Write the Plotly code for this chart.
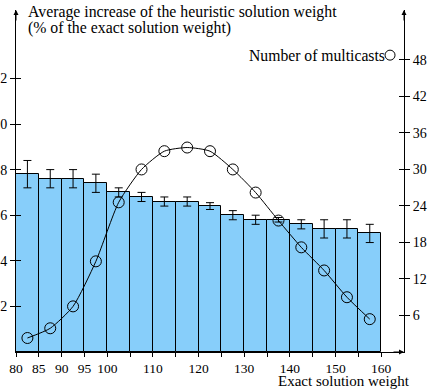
import plotly.graph_objects as go

# Data
bin_centers = [82.5, 87.5, 92.5, 97.5, 102.5, 107.5, 112.5, 117.5, 122.5, 127.5,
               132.5, 137.5, 142.5, 147.5, 152.5, 157.5]
avg_increase = [7.8, 7.6, 7.6, 7.4, 7.0, 6.8, 6.6, 6.6, 6.4, 6.0, 5.8, 5.8, 5.6, 5.4, 5.4, 5.2]
err = [0.6, 0.4, 0.4, 0.4, 0.2, 0.2, 0.2, 0.2, 0.15, 0.2, 0.2, 0.1, 0.2, 0.4, 0.4, 0.4]
multicasts = [2.3, 3.9, 7.5, 14.9, 24.6, 30.0, 33.0, 33.6, 33.0, 30.0, 26.2, 21.6, 17.2, 13.4, 9.0, 5.4]

x_tickvals = [80, 85, 90, 95, 100, 105, 110, 115, 120, 125, 130, 135, 140, 145, 150, 155, 160]
x_ticktext = ["80", "85", "90", "95", "100", "", "110", "", "120", "", "130", "", "140", "", "150", "", "160"]
left_ticks = [2, 4, 6, 8, 10, 12]
right_ticks = [6, 12, 18, 24, 30, 36, 42, 48]

FONT = "Liberation Serif"
LEFT_RANGE = [0, 15]
RIGHT_RANGE = [0, 56.2]

fig = go.Figure()
fig.add_trace(go.Bar(
    x=bin_centers, y=avg_increase, width=5,
    marker=dict(color="#87CEFA", line=dict(color="black", width=1)),
    error_y=dict(type="data", array=err, color="black", thickness=1, width=4),
    showlegend=False,
))
fig.add_trace(go.Scatter(
    x=bin_centers, y=multicasts, yaxis="y2", mode="lines+markers",
    line=dict(color="black", width=1, shape="spline", smoothing=0.6),
    marker=dict(symbol="circle-open", size=11, color="black", line=dict(width=1)),
    showlegend=False,
))
# non-drawing traces that activate the overlay axes used for the inner half of the tick marks
fig.add_trace(go.Scatter(x=bin_centers, y=avg_increase, yaxis="y3", mode="none",
                         showlegend=False, hoverinfo="skip"))
fig.add_trace(go.Scatter(x=bin_centers, y=multicasts, yaxis="y4", mode="none",
                         showlegend=False, hoverinfo="skip"))

tick_common = dict(showgrid=False, zeroline=False, automargin=False, tickcolor="black")

fig.update_layout(
    width=428, height=389,
    margin=dict(l=16, r=24, t=10, b=37),
    paper_bgcolor="white", plot_bgcolor="white",
    font=dict(family=FONT, size=14, color="black"),
    bargap=0,
    xaxis=dict(range=[80, 165], tickvals=x_tickvals, ticktext=x_ticktext,
               showline=True, linecolor="black", linewidth=1, ticks="outside",
               ticklen=4, tickfont=dict(size=13.5), **tick_common),
    yaxis=dict(range=LEFT_RANGE, tickvals=left_ticks, showline=True, linecolor="black",
               linewidth=1, ticks="outside", ticklen=5, tickfont=dict(size=14), **tick_common),
    yaxis2=dict(range=RIGHT_RANGE, tickvals=right_ticks, overlaying="y", side="right",
                showline=True, linecolor="black", linewidth=1, ticks="outside",
                ticklen=5, tickfont=dict(size=14), **tick_common),
    yaxis3=dict(range=LEFT_RANGE, tickvals=left_ticks, overlaying="y", side="left",
                showline=False, ticks="inside", ticklen=5, showticklabels=False, **tick_common),
    yaxis4=dict(range=RIGHT_RANGE, tickvals=right_ticks, overlaying="y", side="right",
                showline=False, ticks="inside", ticklen=5, showticklabels=False, **tick_common),
    annotations=[
        dict(text="Average increase of the heuristic solution weight", xref="paper", yref="paper",
             x=0.026, y=0.995, xanchor="left", yanchor="middle", showarrow=False,
             font=dict(size=15.8)),
        dict(text="(% of the exact solution weight)", xref="paper", yref="paper",
             x=0.026, y=0.947, xanchor="left", yanchor="middle", showarrow=False,
             font=dict(size=15.8)),
        dict(text="Number of multicasts", xref="paper", yref="paper",
             x=0.957, y=0.868, xanchor="right", yanchor="middle", showarrow=False,
             font=dict(size=15.7)),
        dict(text="Exact solution weight", xref="paper", yref="paper",
             x=1.02, y=-0.086, xanchor="right", yanchor="middle", showarrow=False,
             font=dict(size=15)),
        # axis arrowheads
        dict(x=0, y=1, xref="paper", yref="paper", ax=0, ay=12, showarrow=True,
             arrowhead=2, arrowsize=1, arrowwidth=1, arrowcolor="black", text=""),
        dict(x=1, y=1, xref="paper", yref="paper", ax=0, ay=12, showarrow=True,
             arrowhead=2, arrowsize=1, arrowwidth=1, arrowcolor="black", text=""),
        dict(x=1, y=0, xref="paper", yref="paper", ax=-12, ay=0, showarrow=True,
             arrowhead=2, arrowsize=1, arrowwidth=1, arrowcolor="black", text=""),
    ],
    shapes=[
        dict(type="circle", xref="paper", yref="paper", xsizemode="pixel", ysizemode="pixel",
             xanchor=0.964, yanchor=0.868, x0=-5, x1=5, y0=-5, y1=5,
             line=dict(color="black", width=1)),
    ],
)

fig.write_html("out.html")
